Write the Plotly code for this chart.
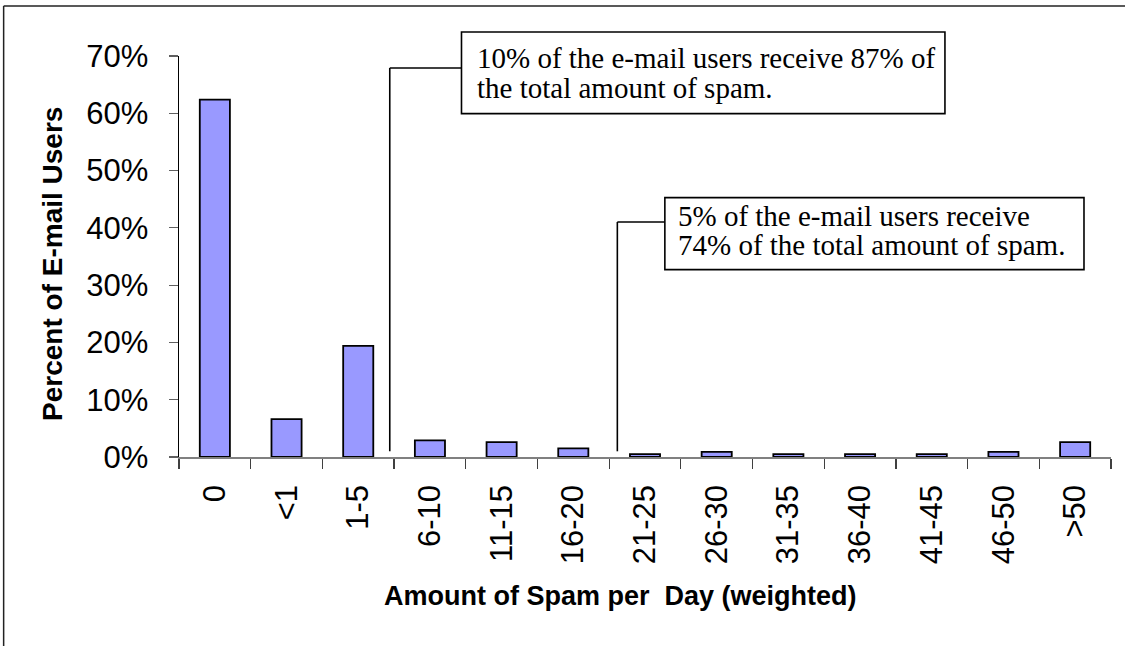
import plotly.graph_objects as go

categories = ["0", "<1", "1-5", "6-10", "11-15", "16-20", "21-25",
              "26-30", "31-35", "36-40", "41-45", "46-50", ">50"]
percent_users = [0.624, 0.066, 0.194, 0.029, 0.026, 0.015, 0.005,
                 0.009, 0.005, 0.005, 0.005, 0.009, 0.026]
y_ticks = [0, 0.1, 0.2, 0.3, 0.4, 0.5, 0.6, 0.7]

note1 = ["10% of the e-mail users receive 87% of", "the total amount of spam."]
note2 = ["5% of the e-mail users receive", "74% of the total amount of spam."]

SANS = "Liberation Sans, Arial, sans-serif"
SERIF = "Liberation Serif, Times New Roman, serif"

fig = go.Figure()
fig.add_trace(go.Bar(
    x=categories, y=percent_users,
    marker=dict(color="#9999FF", line=dict(color="black", width=1.8)),
    showlegend=False,
))

# plot area pixel geometry: x 179.3..1111, y 55.7..456.7
L, R, T, B = 179.3, 1111.0, 55.7, 456.7
W, H = R - L, B - T


def px(x):
    return (x - L) / W


def py(y):
    return (B - y) / H


shapes = []
line_style = dict(color="black", width=1.6)
frame_style = dict(color="#222222", width=1.5)
# outer frame (top and left edges; right/bottom lie outside the picture)
shapes.append(dict(type="line", xref="paper", yref="paper",
                   x0=px(4), x1=px(1125), y0=py(5.7), y1=py(5.7), line=frame_style))
shapes.append(dict(type="line", xref="paper", yref="paper",
                   x0=px(4), x1=px(4), y0=py(646), y1=py(5.7), line=frame_style))
# callout 1
shapes.append(dict(type="line", xref="paper", yref="paper",
                   x0=px(390), x1=px(390), y0=py(451), y1=py(67.7), line=line_style))
shapes.append(dict(type="line", xref="paper", yref="paper",
                   x0=px(390), x1=px(461.7), y0=py(67.7), y1=py(67.7), line=line_style))
shapes.append(dict(type="rect", xref="paper", yref="paper",
                   x0=px(461.7), x1=px(945), y0=py(113.3), y1=py(31.7),
                   line=line_style, fillcolor="white"))
# callout 2
shapes.append(dict(type="line", xref="paper", yref="paper",
                   x0=px(617.5), x1=px(617.5), y0=py(451), y1=py(221.7), line=line_style))
shapes.append(dict(type="line", xref="paper", yref="paper",
                   x0=px(617.5), x1=px(665), y0=py(221.7), y1=py(221.7), line=line_style))
shapes.append(dict(type="rect", xref="paper", yref="paper",
                   x0=px(665), x1=px(1084), y0=py(269.3), y1=py(197.3),
                   line=line_style, fillcolor="white"))

annotations = []
for i, t in enumerate(note1):
    annotations.append(dict(text=t, xref="paper", yref="paper",
                            x=px(475), y=py(58 + 30 * i), xanchor="left", yanchor="middle",
                            showarrow=False, font=dict(family=SERIF, size=29, color="black")))
for i, t in enumerate(note2):
    annotations.append(dict(text=t, xref="paper", yref="paper",
                            x=px(676), y=py(216 + 29 * i), xanchor="left", yanchor="middle",
                            showarrow=False, font=dict(family=SERIF, size=29, color="black")))
# axis titles
annotations.append(dict(text="<b>Amount of Spam per  Day (weighted)</b>", xref="paper", yref="paper",
                        x=px(621), y=py(596), xanchor="center", yanchor="middle",
                        showarrow=False, font=dict(family=SANS, size=27, color="black")))
annotations.append(dict(text="<b>Percent of E-mail Users</b>", xref="paper", yref="paper",
                        x=px(53), y=py(264), xanchor="center", yanchor="middle", textangle=-90,
                        showarrow=False, font=dict(family=SANS, size=28, color="black")))

fig.update_layout(
    width=1125, height=646,
    margin=dict(l=L, r=1125 - R, t=T, b=646 - B, pad=0),
    paper_bgcolor="white", plot_bgcolor="white",
    bargap=0.58,
    shapes=shapes,
    annotations=annotations,
    font=dict(family=SANS, color="black"),
    xaxis=dict(
        type="category", tickson="boundaries", ticks="outside", ticklen=10,
        tickcolor="#404040", tickwidth=1.2,
        showline=True, linecolor="#808080", linewidth=1.5,
        showgrid=False, zeroline=False, tickangle=-90,
        tickfont=dict(family=SANS, size=31, color="black"),
        ticklabelstandoff=14,
        range=[-0.5, 12.5],
    ),
    yaxis=dict(
        range=[0, 0.70], tickvals=y_ticks, tickformat=".0%",
        ticks="outside", ticklen=9, tickcolor="#606060", tickwidth=1.2,
        showline=True, linecolor="black", linewidth=1.5,
        showgrid=False, zeroline=False,
        tickfont=dict(family=SANS, size=31, color="black"),
        ticklabelstandoff=14,
    ),
)

fig.write_html("out.html", config={"displayModeBar": False, "staticPlot": True})

# remove the default page margin so the figure sits at the window origin
with open("out.html", "r", encoding="utf-8") as f:
    html = f.read()
html = html.replace("<body>", '<body style="margin:0;padding:0;overflow:hidden">', 1)
with open("out.html", "w", encoding="utf-8") as f:
    f.write(html)
